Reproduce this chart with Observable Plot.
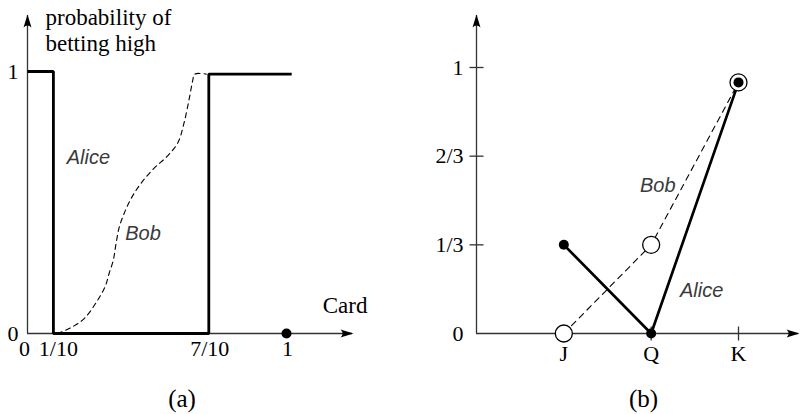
<!DOCTYPE html>
<html>
<head>
<meta charset="utf-8">
<script src="https://cdn.jsdelivr.net/npm/d3@7"></script>
<script src="https://cdn.jsdelivr.net/npm/@observablehq/plot@0.6"></script>
<style>
  html, body { margin: 0; padding: 0; background: white; }
  #wrap { display: flex; width: 800px; height: 414px; }
</style>
</head>
<body>
<div id="wrap"></div>
<script>
// ---------- Panel (a) data ----------
const aliceAX = [0, 0.1, 0.1, 0.7, 0.7, 1.02];
const aliceAY = [1, 1, 0, 0, 0.99, 0.99];
const bobAX = [0.115, 0.169, 0.219, 0.265, 0.300, 0.315, 0.331, 0.342, 0.354, 0.373, 0.400, 0.438, 0.488, 0.542, 0.581, 0.604, 0.623, 0.638, 0.645, 0.69];
const bobAY = [0, 0.023, 0.057, 0.118, 0.18, 0.229, 0.279, 0.344, 0.405, 0.458, 0.515, 0.573, 0.630, 0.679, 0.729, 0.802, 0.889, 0.966, 0.99, 0.99];
const xTicksA = [0, 0.1, 0.7, 1];
const xTickLabelsA = ["0", "1/10", "7/10", "1"];
const yTicksA = [0, 1];
const yTickLabelsA = ["0", "1"];
const cardPointA = [1];
const labelsA = [
  {text: "Alice", x: 0.235, y: 0.672},
  {text: "Bob", x: 0.446, y: 0.382}
];

// ---------- Panel (b) data ----------
const cards = ["J", "Q", "K"];
const aliceB = [1/3, 0, 0.944];
const bobB = [0, 1/3, 0.944];
const yTicksB = [0, 1/3, 2/3, 1];
const yTickLabelsB = ["0", "1/3", "2/3", "1"];
const labelsB = [
  {text: "Bob", x: 2.076, y: 0.556},
  {text: "Alice", x: 2.578, y: 0.162}
];

// ---------- helpers ----------
const arrowHead = {draw(ctx) {
  ctx.moveTo(1, 0);
  ctx.lineTo(-12, -4);
  ctx.quadraticCurveTo(-8, 0, -12, 4);
  ctx.closePath();
}};
const hTick = {draw(ctx) { ctx.moveTo(-7, 0); ctx.lineTo(7, 0); }};
const vTick = {draw(ctx) { ctx.moveTo(0, -7); ctx.lineTo(0, 7); }};

const serif = "'Liberation Serif', 'Times New Roman', serif";
const hand = "'Liberation Sans', 'DejaVu Sans', sans-serif";
const axisColor = "#333";
const fmtA = d => xTickLabelsA[xTicksA.indexOf(d)];

const rowsA = aliceAX.map((x, i) => ({x, y: aliceAY[i]}));
const bobRowsA = bobAX.map((x, i) => ({x, y: bobAY[i]}));
const rowsB = cards.map((c, i) => ({card: c, pos: i + 1, alice: aliceB[i], bob: bobB[i]}));

const plotA = Plot.plot({
  width: 400, height: 414,
  marginLeft: 27, marginRight: 48, marginTop: 15, marginBottom: 81,
  x: {domain: [0, 1], range: [27, 286], axis: null},
  y: {domain: [0, 1], range: [333, 71], axis: null},
  style: {fontFamily: serif, fontSize: "22px", color: "black", background: "white", overflow: "visible"},
  marks: [
    Plot.ruleY([0], {stroke: axisColor, strokeWidth: 1.3}),
    Plot.ruleX([0], {stroke: axisColor, strokeWidth: 1.3}),
    Plot.dot([0], {y: d => d, frameAnchor: "right", symbol: arrowHead, fill: "black", stroke: "none"}),
    Plot.dot([0], {x: d => d, frameAnchor: "top", symbol: arrowHead, rotate: -90, fill: "black", stroke: "none"}),
    Plot.line(bobRowsA, {x: "x", y: "y", curve: "catmull-rom", stroke: "black", strokeWidth: 1.1, strokeDasharray: "5,4"}),
    Plot.line(rowsA, {x: "x", y: "y", stroke: "black", strokeWidth: 2.8, strokeLinejoin: "miter", strokeLinecap: "butt"}),
    Plot.dot(cardPointA, {x: d => d, y: 0, r: 5, fill: "black"}),
    Plot.text(xTicksA.slice(0, 1), {x: d => d, frameAnchor: "bottom", dx: -3, dy: 22, text: fmtA, fontSize: 22, fontFamily: serif}),
    Plot.text(xTicksA.slice(1, 2), {x: d => d, frameAnchor: "bottom", dx: 5, dy: 22, text: fmtA, fontSize: 22, fontFamily: serif}),
    Plot.text(xTicksA.slice(2), {x: d => d, frameAnchor: "bottom", dx: 1, dy: 22, text: fmtA, fontSize: 22, fontFamily: serif}),
    Plot.axisY(yTicksA, {tickSize: 0, tickPadding: 9, label: null, fontSize: 22, fontFamily: serif, tickFormat: d => yTickLabelsA[yTicksA.indexOf(d)]}),
    Plot.text(["probability of\nbetting high"], {frameAnchor: "top-left", textAnchor: "start", lineAnchor: "top", dx: 18, dy: -9, lineHeight: 1.13, fontSize: 23, fontFamily: serif}),
    Plot.text(["Card"], {frameAnchor: "bottom-right", textAnchor: "end", dx: 15, dy: -21, fontSize: 23, fontFamily: serif}),
    Plot.text(labelsA, {x: "x", y: "y", text: "text", fontSize: 20, fontStyle: "italic", fontFamily: hand, fill: "#3a3a3a"}),
    Plot.text(["(a)"], {frameAnchor: "bottom", dx: -8, dy: 73, fontSize: 25, fontFamily: serif})
  ]
});

const plotB = Plot.plot({
  width: 400, height: 414,
  marginLeft: 76, marginRight: 2, marginTop: 15, marginBottom: 81,
  x: {domain: [0, 3], range: [76, 338], axis: null},
  y: {domain: [0, 1], range: [333, 67], axis: null},
  style: {fontFamily: serif, fontSize: "22px", color: "black", background: "white", overflow: "visible"},
  marks: [
    Plot.ruleY([0], {stroke: axisColor, strokeWidth: 1.3}),
    Plot.ruleX([0], {stroke: axisColor, strokeWidth: 1.3}),
    Plot.dot([0], {y: d => d, frameAnchor: "right", symbol: arrowHead, fill: "black", stroke: "none"}),
    Plot.dot([0], {x: d => d, frameAnchor: "top", symbol: arrowHead, rotate: -90, fill: "black", stroke: "none"}),
    Plot.dot(yTicksB.slice(1), {y: d => d, frameAnchor: "left", symbol: hTick, stroke: axisColor, strokeWidth: 1.3, fill: "none"}),
    Plot.dot(rowsB, {x: "pos", frameAnchor: "bottom", symbol: vTick, stroke: axisColor, strokeWidth: 1.3, fill: "none"}),
    Plot.line(rowsB, {x: "pos", y: "bob", stroke: "black", strokeWidth: 1.1, strokeDasharray: "6,5"}),
    Plot.line(rowsB, {x: "pos", y: "alice", stroke: "black", strokeWidth: 2.7, strokeLinejoin: "miter"}),
    Plot.dot(rowsB, {x: "pos", y: "bob", r: 8.5, fill: "white", stroke: "black", strokeWidth: 1.3}),
    Plot.dot(rowsB, {x: "pos", y: "alice", r: 5, fill: "black"}),
    Plot.axisX(rowsB.map(d => d.pos), {tickSize: 0, tickPadding: 12, label: null, fontSize: 22, fontFamily: serif, tickFormat: d => cards[d - 1]}),
    Plot.axisY(yTicksB, {tickSize: 0, tickPadding: 13, label: null, fontSize: 22, fontFamily: serif, tickFormat: d => yTickLabelsB[yTicksB.indexOf(d)]}),
    Plot.text(labelsB, {x: "x", y: "y", text: "text", fontSize: 20, fontStyle: "italic", fontFamily: hand, fill: "#3a3a3a"}),
    Plot.text(["(b)"], {frameAnchor: "bottom", dx: 6, dy: 73, fontSize: 25, fontFamily: serif})
  ]
});

const wrap = document.getElementById("wrap");
wrap.appendChild(plotA);
wrap.appendChild(plotB);
</script>
</body>
</html>
